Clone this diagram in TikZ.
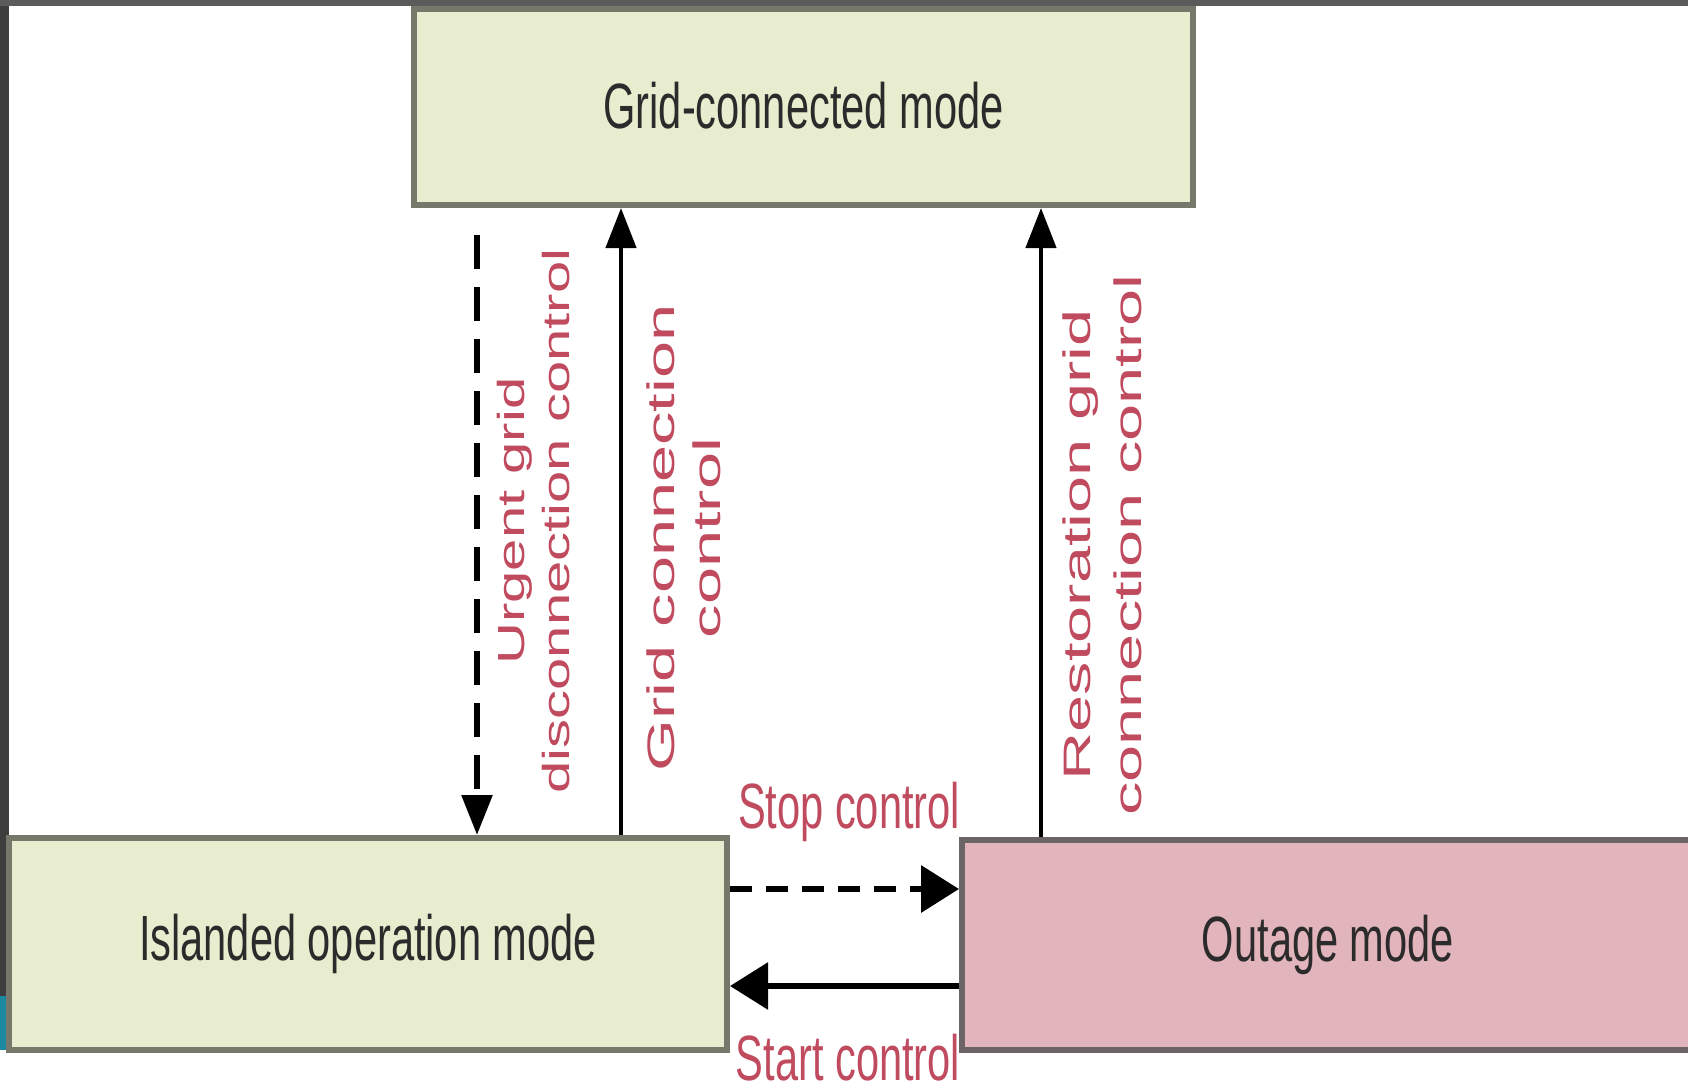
\documentclass[tikz,border=0pt]{standalone}
\usepackage{fontspec}
\setmainfont{Liberation Sans}
\usepackage{graphicx}
\usetikzlibrary{arrows.meta}
\definecolor{boxgreen}{HTML}{E8EDCF}
\definecolor{boxpink}{HTML}{E2B5BD}
\definecolor{edgegray}{HTML}{77786C}
\definecolor{edgepink}{HTML}{6C6466}
\definecolor{lblred}{HTML}{C04A5E}
\definecolor{txtdark}{HTML}{2B2B2B}
\definecolor{framegray}{HTML}{3E3E3E}
\definecolor{frameteal}{HTML}{1B8AA0}
\newcommand\hsq[1]{\scalebox{0.65}[1]{#1}}
\newcommand\vsq[1]{\scalebox{1}[0.65]{\begin{tabular}{@{}c@{}}#1\end{tabular}}}
\newcommand\vsqb[1]{\scalebox{1.15}[0.66]{\begin{tabular}{@{}c@{}}#1\end{tabular}}}
\begin{document}
\begin{tikzpicture}[x=0.5pt,y=-0.5pt,
 modebox/.style={draw=edgegray, line width=3pt, fill=boxgreen, inner sep=0pt, text=txtdark, font=\fontsize{32}{36}\selectfont},
 flow/.style={line width=2.2pt, -{Triangle[width=15pt,length=20pt]}},
 hflow/.style={line width=3pt, -{Triangle[width=23pt,length=19pt]}},
 lbl/.style={text=lblred, inner sep=0pt, font=\fontsize{29}{35}\selectfont},
 hlbl/.style={text=lblred, inner sep=0pt, font=\fontsize{32}{36}\selectfont},
]
\useasboundingbox (0,0) rectangle (1688,1086);
\fill[white] (0,0) rectangle (1688,1086);

% frame strips of the screenshot
\fill[framegray] (0,0) rectangle (9,996);
\fill[frameteal] (0,996) rectangle (9,1050);
\fill[framegray!85] (0,0) rectangle (1688,6);

% mode boxes
\node[modebox, minimum width=389.5pt, minimum height=98pt] (grid) at (803.5,107) {\raisebox{1.5pt}{\hsq{Grid-connected mode}}};
\node[modebox, minimum width=359pt, minimum height=106pt] (island) at (368,944) {\raisebox{-3pt}{\hsq{Islanded operation mode}}};
\node[modebox, draw=edgepink, fill=boxpink, minimum width=366pt, minimum height=105pt] (outage) at (1328,945) {\raisebox{-3pt}{\hsq{Outage mode}}};

% vertical connectors
\coordinate (ugd) at (477,235);
\draw[flow, line width=2.8pt, dash pattern=on 17pt off 9pt] (ugd) -- (ugd |- island.north);
\coordinate (gcx) at (621,500);
\draw[flow] (gcx |- island.north) -- (gcx |- grid.south);
\coordinate (rcx) at (1041,500);
\draw[flow] (rcx |- outage.north) -- (rcx |- grid.south);

% horizontal connectors
\coordinate (sty) at (850,889);
\draw[hflow, line width=3.4pt, dash pattern=on 11pt off 7pt] (island.east |- sty) -- (outage.west |- sty);
\coordinate (sry) at (850,986);
\draw[hflow] (outage.west |- sry) -- (island.east |- sry);

% labels
\node[lbl, rotate=90] (lurg) at (538,521) {\vsq{Urgent grid\\disconnection control}};
\node[lbl, rotate=90] (lgcc) at (688,538) {\vsqb{Grid connection\\control}};
\node[lbl, rotate=90, font=\fontsize{29}{38}\selectfont] (lrgc) at (1106,545) {\vsqb{Restoration grid\\connection control}};
\node[hlbl] (lstop) at (849,812) {\hsq{Stop control}};
\node[hlbl] (lstart) at (848,1058) {\hsq{Start control}};
\end{tikzpicture}
\end{document}
